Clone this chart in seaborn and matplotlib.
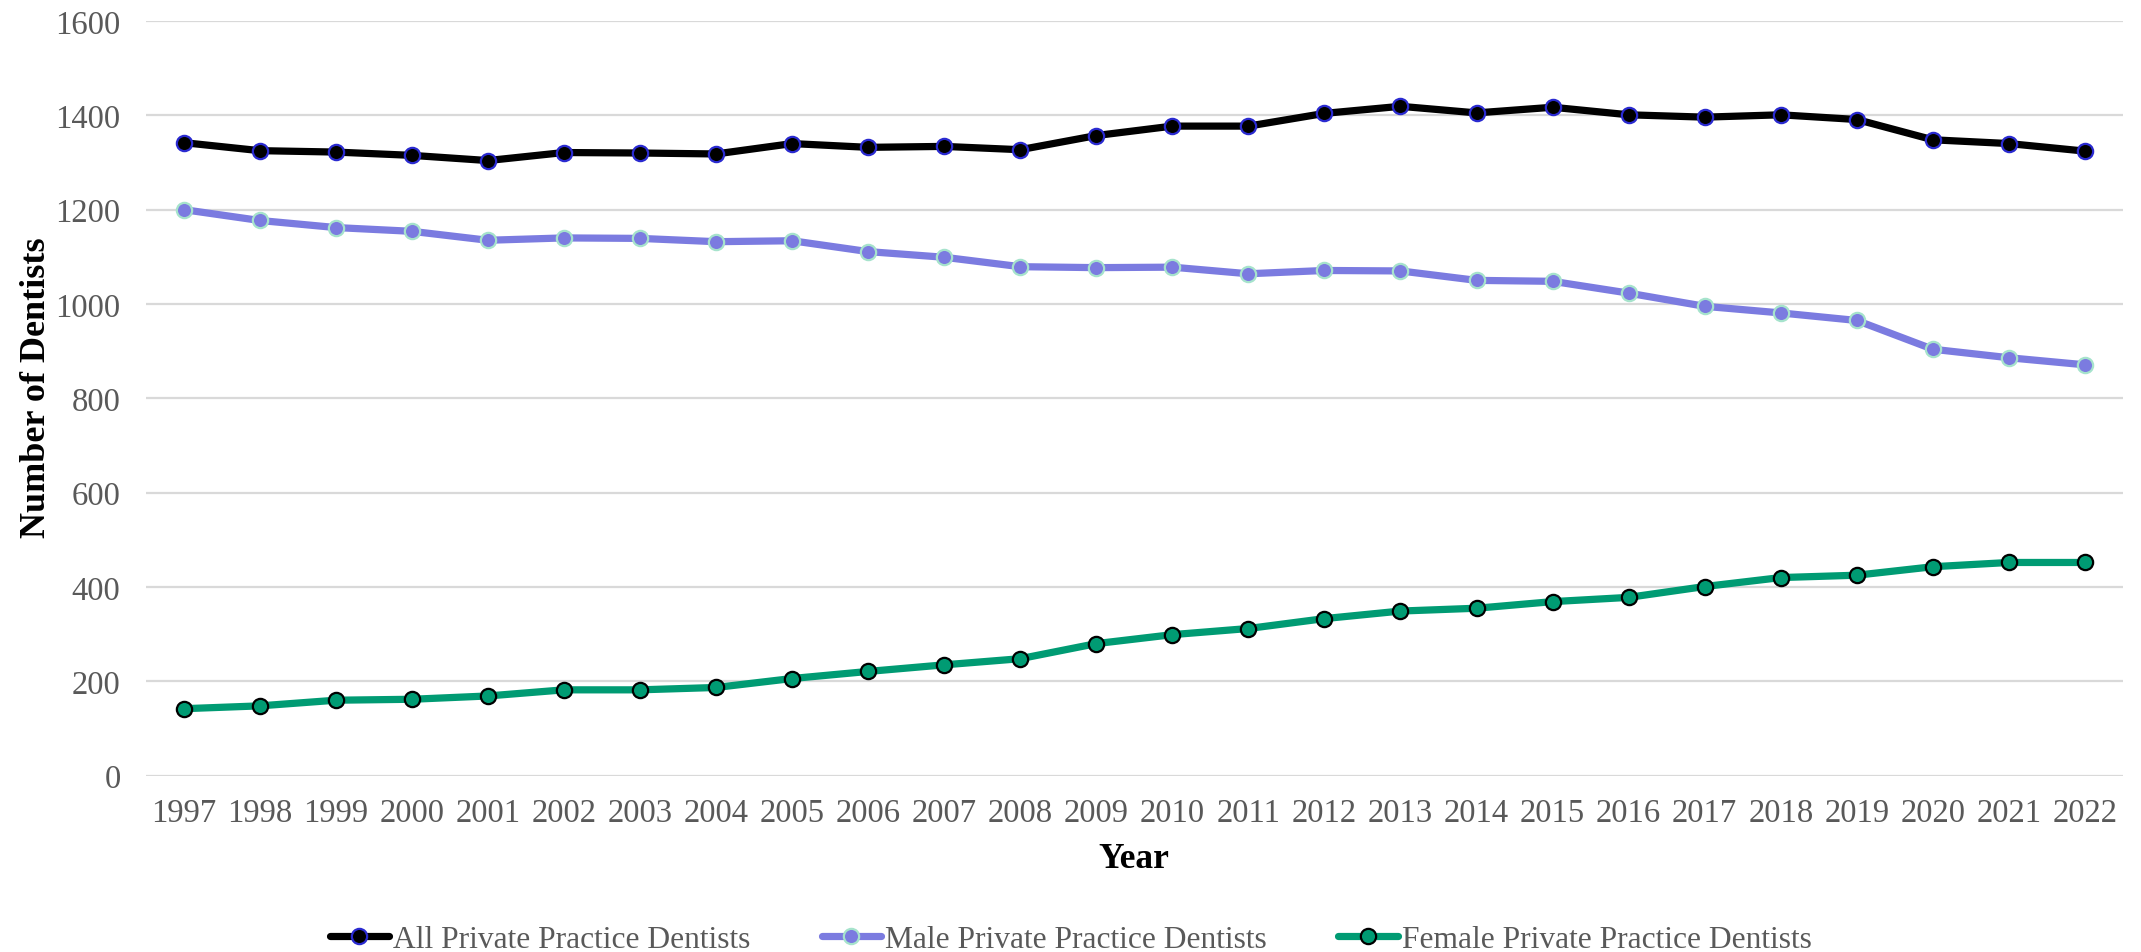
import pandas as pd
import seaborn as sns
import matplotlib.pyplot as plt

years = list(range(1997, 2023))

all_dentists = [1342, 1325, 1322, 1315, 1304, 1321, 1320, 1318, 1340, 1332,
                1334, 1327, 1357, 1377, 1377, 1404, 1419, 1405, 1417, 1401,
                1396, 1401, 1391, 1348, 1340, 1324]
male_dentists = [1200, 1177, 1162, 1154, 1135, 1140, 1139, 1132, 1134, 1111,
                 1099, 1079, 1077, 1078, 1064, 1071, 1070, 1050, 1048, 1023,
                 995, 981, 965, 904, 886, 871]
female_dentists = [142, 148, 160, 162, 169, 182, 182, 187, 206, 221,
                   235, 248, 280, 299, 312, 333, 349, 355, 369, 378,
                   401, 420, 425, 443, 452, 452]

series_names = ["All Private Practice Dentists",
                "Male Private Practice Dentists",
                "Female Private Practice Dentists"]
y_ticks = [0, 200, 400, 600, 800, 1000, 1200, 1400, 1600]

sns.set_style("white")
plt.rcParams['font.family'] = ['Liberation Serif', 'DejaVu Serif']

df = pd.DataFrame({"Year": years,
                   series_names[0]: all_dentists,
                   series_names[1]: male_dentists,
                   series_names[2]: female_dentists})

styles = {
    series_names[0]: dict(color="black", mfc="black", mec="#2a2ad0"),
    series_names[1]: dict(color="#7b7be0", mfc="#7b7be0", mec="#a6e3cc"),
    series_names[2]: dict(color="#009b73", mfc="#009b73", mec="black"),
}

fig = plt.figure(figsize=(21.41, 9.53), dpi=100)
ax = fig.add_axes([0.068, 0.185, 0.9236, 0.792])

for name in series_names:
    st = styles[name]
    sns.lineplot(data=df, x="Year", y=name, ax=ax, label=name,
                 color=st["color"], linewidth=5.2, marker="o", markersize=11,
                 markerfacecolor=st["mfc"], markeredgecolor=st["mec"],
                 markeredgewidth=1.6, legend=False)

ax.set_xlim(1996.5, 2022.5)
ax.set_ylim(0, 1600)
ax.set_xticks(years)
ax.set_yticks(y_ticks)
ax.yaxis.grid(True, color="#d9d9d9", linewidth=1.6)
ax.set_axisbelow(True)
for sp in ax.spines.values():
    sp.set_visible(False)
ax.tick_params(axis="both", length=0, labelsize=23.5, labelcolor="#595959")
ax.tick_params(axis="x", pad=16)
ax.tick_params(axis="y", pad=18)

ax.set_xlabel("Year", fontsize=25.5, fontweight="bold", color="black", labelpad=10)
ax.set_ylabel("Number of Dentists", fontsize=26, fontweight="bold", color="black")
ax.yaxis.set_label_coords(-0.047, 0.515)

handles, labels = ax.get_legend_handles_labels()
leg = fig.legend(handles, labels, loc="center", bbox_to_anchor=(0.5, 13 / 953),
                 ncol=3, frameon=False, fontsize=22.7, handlelength=1.9,
                 handletextpad=0.12, columnspacing=2.25)
for t in leg.get_texts():
    t.set_color("#595959")

fig.savefig("out.png", dpi=100)
